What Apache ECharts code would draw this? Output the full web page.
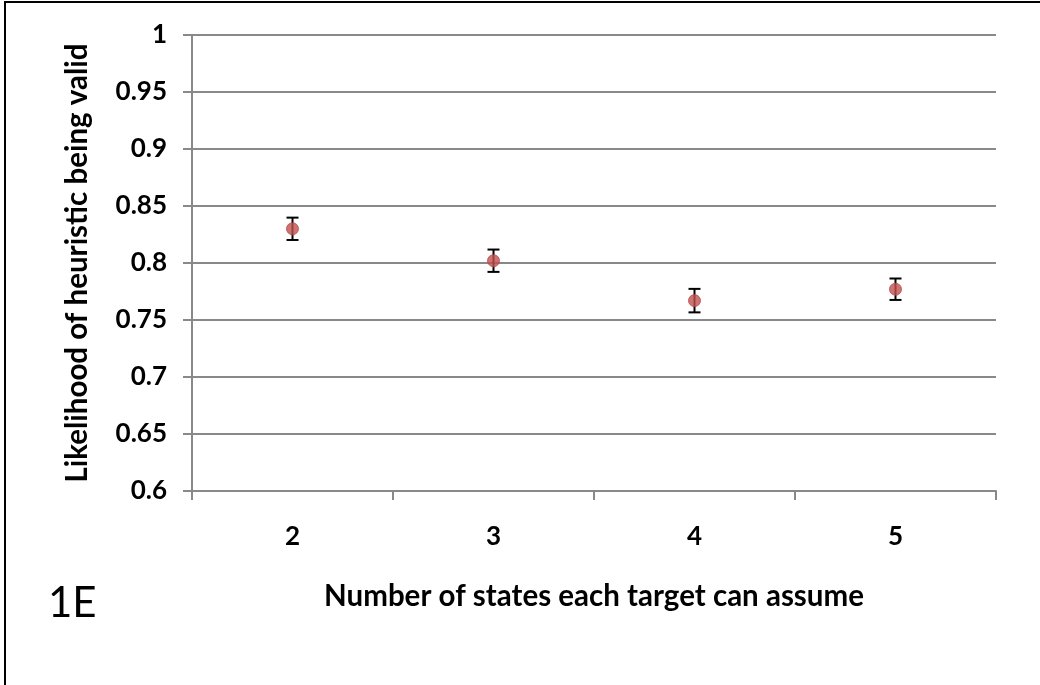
<!DOCTYPE html>
<html>
<head>
<meta charset="utf-8">
<script src="https://cdn.jsdelivr.net/npm/echarts@6/dist/echarts.min.js"></script>
<style>
  html, body { margin: 0; padding: 0; background: #fff; }
  #frame { position: absolute; left: 0; top: 0; width: 1040px; height: 685px; }
  #chart { position: absolute; left: 0; top: 0; width: 1040px; height: 685px; }
  #edgeTop { position: absolute; left: 4px; top: 1px; width: 1036px; height: 2px; background: #000; }
  #edgeLeft { position: absolute; left: 4px; top: 1px; width: 2px; height: 684px; background: #000; }
</style>
</head>
<body>
<div id="frame">
  <div id="chart"></div>
  <div id="edgeTop"></div>
  <div id="edgeLeft"></div>
</div>
<script>
// Number of states per target, mean likelihood and half-width of the error bar
const categories = ['2', '3', '4', '5'];
const likelihood = [0.830, 0.802, 0.767, 0.777];
const errorHalf = [0.0098, 0.0098, 0.0103, 0.0094];
const yTicks = [0.6, 0.65, 0.7, 0.75, 0.8, 0.85, 0.9, 0.95, 1];

const FONT = 'Lato, "Open Sans", sans-serif';

const errorData = categories.map((c, i) => [i, likelihood[i] - errorHalf[i], likelihood[i] + errorHalf[i]]);

const chart = echarts.init(document.getElementById('chart'), null, { renderer: 'canvas' });

chart.setOption({
  animation: false,
  backgroundColor: '#ffffff',
  grid: { left: 192, right: 44, top: 35, bottom: 194, containLabel: false },
  xAxis: {
    type: 'category',
    data: categories,
    boundaryGap: true,
    name: 'Number of states each target can assume',
    nameLocation: 'middle',
    nameGap: 90,
    nameTextStyle: { fontFamily: FONT, fontWeight: 'bold', fontSize: 29.5, color: '#000' },
    axisLine: { lineStyle: { color: '#898989', width: 2 } },
    axisTick: { show: true, length: 9, alignWithLabel: false, lineStyle: { color: '#898989', width: 2 } },
    axisLabel: { fontFamily: FONT, fontWeight: 'bold', fontSize: 26, color: '#000', margin: 33 },
    splitLine: { show: false }
  },
  yAxis: {
    type: 'value',
    min: yTicks[0],
    max: yTicks[yTicks.length - 1],
    interval: 0.05,
    name: 'Likelihood of heuristic being valid',
    nameLocation: 'middle',
    nameGap: 100,
    nameTextStyle: { fontFamily: FONT, fontWeight: 'bold', fontSize: 29.5, color: '#000' },
    axisLine: { show: true, lineStyle: { color: '#898989', width: 2 } },
    axisTick: { show: true, length: 9, lineStyle: { color: '#898989', width: 2 } },
    axisLabel: {
      fontFamily: FONT, fontWeight: 'bold', fontSize: 26, color: '#000', margin: 25,
      formatter: v => String(parseFloat(v.toFixed(2)))
    },
    splitLine: { show: true, lineStyle: { color: '#898989', width: 2 } }
  },
  series: [
    {
      type: 'custom',
      name: 'error',
      data: errorData,
      z: 3,
      renderItem: (params, api) => {
        const x = api.coord([api.value(0), api.value(1)])[0];
        const lo = api.coord([api.value(0), api.value(1)])[1];
        const hi = api.coord([api.value(0), api.value(2)])[1];
        const half = 6;
        const style = { stroke: '#000', lineWidth: 2 };
        return {
          type: 'group',
          children: [
            { type: 'line', shape: { x1: x, y1: lo, x2: x, y2: hi }, style },
            { type: 'line', shape: { x1: x - half, y1: lo, x2: x + half, y2: lo }, style },
            { type: 'line', shape: { x1: x - half, y1: hi, x2: x + half, y2: hi }, style }
          ]
        };
      }
    },
    {
      type: 'scatter',
      name: 'likelihood',
      data: likelihood,
      symbol: 'circle',
      symbolSize: 12,
      z: 4,
      itemStyle: { color: '#c0504d', borderColor: '#b8474a', borderWidth: 1 }
    }
  ],
  graphic: [
    {
      type: 'text',
      x: 48,
      y: 603,
      style: { text: '1E', fontFamily: FONT, fontSize: 42, fill: '#000', textVerticalAlign: 'middle' }
    }
  ]
});
</script>
</body>
</html>
